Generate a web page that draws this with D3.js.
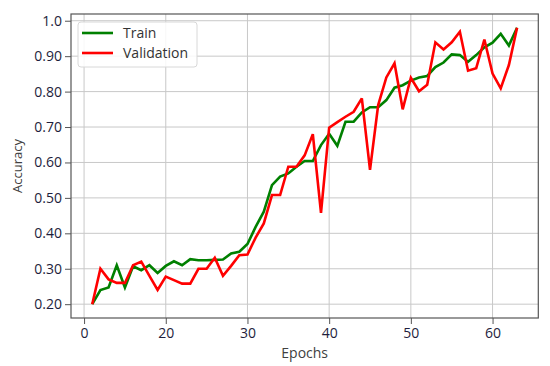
<!DOCTYPE html>
<html><head><meta charset="utf-8">
<script src="https://cdn.jsdelivr.net/npm/d3@7"></script>
<style>html,body{margin:0;padding:0;background:#fff;}svg{display:block;}</style>
</head><body>
<svg id="chart" width="550" height="366"></svg>
<script>
const epochs = d3.range(1, 54);
const train = [0.20,0.24,0.247,0.31,0.247,0.307,0.296,0.31,0.288,0.308,
  0.321,0.31,0.327,0.324,0.324,0.325,0.326,0.343,0.348,0.37,
  0.418,0.461,0.536,0.56,0.569,0.588,0.604,0.604,0.649,0.681,
  0.647,0.715,0.715,0.741,0.756,0.756,0.776,0.811,0.818,0.831,
  0.84,0.844,0.869,0.882,0.905,0.903,0.884,0.903,0.925,0.938,
  0.963,0.93,0.98];
const validation = [0.20,0.30,0.27,0.26,0.26,0.31,0.32,0.28,0.24,0.278,
  0.268,0.258,0.258,0.30,0.30,0.331,0.28,0.308,0.338,0.34,
  0.388,0.428,0.508,0.508,0.588,0.588,0.62,0.68,0.458,0.698,
  0.714,0.729,0.743,0.781,0.579,0.762,0.84,0.88,0.75,0.839,
  0.801,0.819,0.939,0.919,0.939,0.969,0.859,0.866,0.947,0.851,
  0.809,0.875,0.98];
const xTickValues = [0,10,20,30,40,50];
const xTickLabels = ["0","20","30","40","50","60"];
const yTickValues = [0.2,0.3,0.4,0.5,0.6,0.7,0.8,0.9,1.0];
const yTickLabels = ["0.20","0.30","0.40","0.50","0.60","0.70","0.80","0.90","1.0"];
const seriesNames = ["Train","Validation"];
const seriesColors = ["#008000","#ff0000"];

const svg = d3.select("#chart");
const L = 71, R = 538.3, T = 14, B = 318;
const x = d3.scaleLinear().domain([-1.6, 55.6]).range([L, R]);
const y = d3.scaleLinear().domain([0.161, 1.019]).range([B, T]);
const font = "'Open Sans', sans-serif";

// grid
const g = svg.append("g");
g.selectAll("line.vg").data(xTickValues).enter().append("line")
  .attr("x1", d => x(d)).attr("x2", d => x(d)).attr("y1", T).attr("y2", B)
  .attr("stroke", "#c8c8c8").attr("stroke-width", 1);
g.selectAll("line.hg").data(yTickValues).enter().append("line")
  .attr("x1", L).attr("x2", R).attr("y1", d => y(d)).attr("y2", d => y(d))
  .attr("stroke", "#c8c8c8").attr("stroke-width", 1);

// lines
const line = d3.line().x((d, i) => x(epochs[i])).y(d => y(d));
[train, validation].forEach((s, k) => {
  svg.append("path").datum(s).attr("d", line)
    .attr("fill", "none").attr("stroke", seriesColors[k])
    .attr("stroke-width", 2.6).attr("stroke-linejoin", "miter").attr("stroke-miterlimit", 3);
});

// axes
const xAxis = d3.axisBottom(x).tickValues(xTickValues).tickSize(6).tickPadding(4)
  .tickFormat((d, i) => xTickLabels[i]);
const yAxis = d3.axisLeft(y).tickValues(yTickValues).tickSize(6).tickPadding(3)
  .tickFormat((d, i) => yTickLabels[i]);
const gx = svg.append("g").attr("transform", `translate(0,${B})`).call(xAxis);
const gy = svg.append("g").attr("transform", `translate(${L},0)`).call(yAxis);
[gx, gy].forEach(a => {
  a.select(".domain").remove();
  a.selectAll(".tick line").attr("stroke", "#555").attr("stroke-width", 1);
  a.selectAll("text").attr("fill", "#1e1e3c").style("font-family", font).style("font-size", "14px");
});

// frame
svg.append("rect").attr("x", L).attr("y", T).attr("width", R - L).attr("height", B - T)
  .attr("fill", "none").attr("stroke", "#555").attr("stroke-width", 1.2);

// labels
svg.append("text").attr("x", x(27)).attr("y", 358).attr("text-anchor", "middle")
  .attr("fill", "#404040").style("font-family", font).style("font-size", "14px").text("Epochs");
svg.append("text").attr("transform", `translate(22,${(T + B) / 2}) rotate(-90)`)
  .attr("text-anchor", "middle").attr("fill", "#404040")
  .style("font-family", font).style("font-size", "13px").text("Accuracy");

// legend
const lg = svg.append("g");
lg.append("rect").attr("x", 78).attr("y", 22).attr("width", 119).attr("height", 45)
  .attr("rx", 3).attr("fill", "#fff").attr("fill-opacity", 0.85)
  .attr("stroke", "#d8d8d8").attr("stroke-width", 1);
seriesNames.forEach((n, k) => {
  const yy = 33 + k * 20;
  lg.append("line").attr("x1", 82).attr("x2", 113).attr("y1", yy).attr("y2", yy)
    .attr("stroke", seriesColors[k]).attr("stroke-width", 2.6);
  lg.append("text").attr("x", 123).attr("y", yy + 5).attr("fill", "#333")
    .style("font-family", font).style("font-size", "14px").text(n);
});
</script>
</body></html>
